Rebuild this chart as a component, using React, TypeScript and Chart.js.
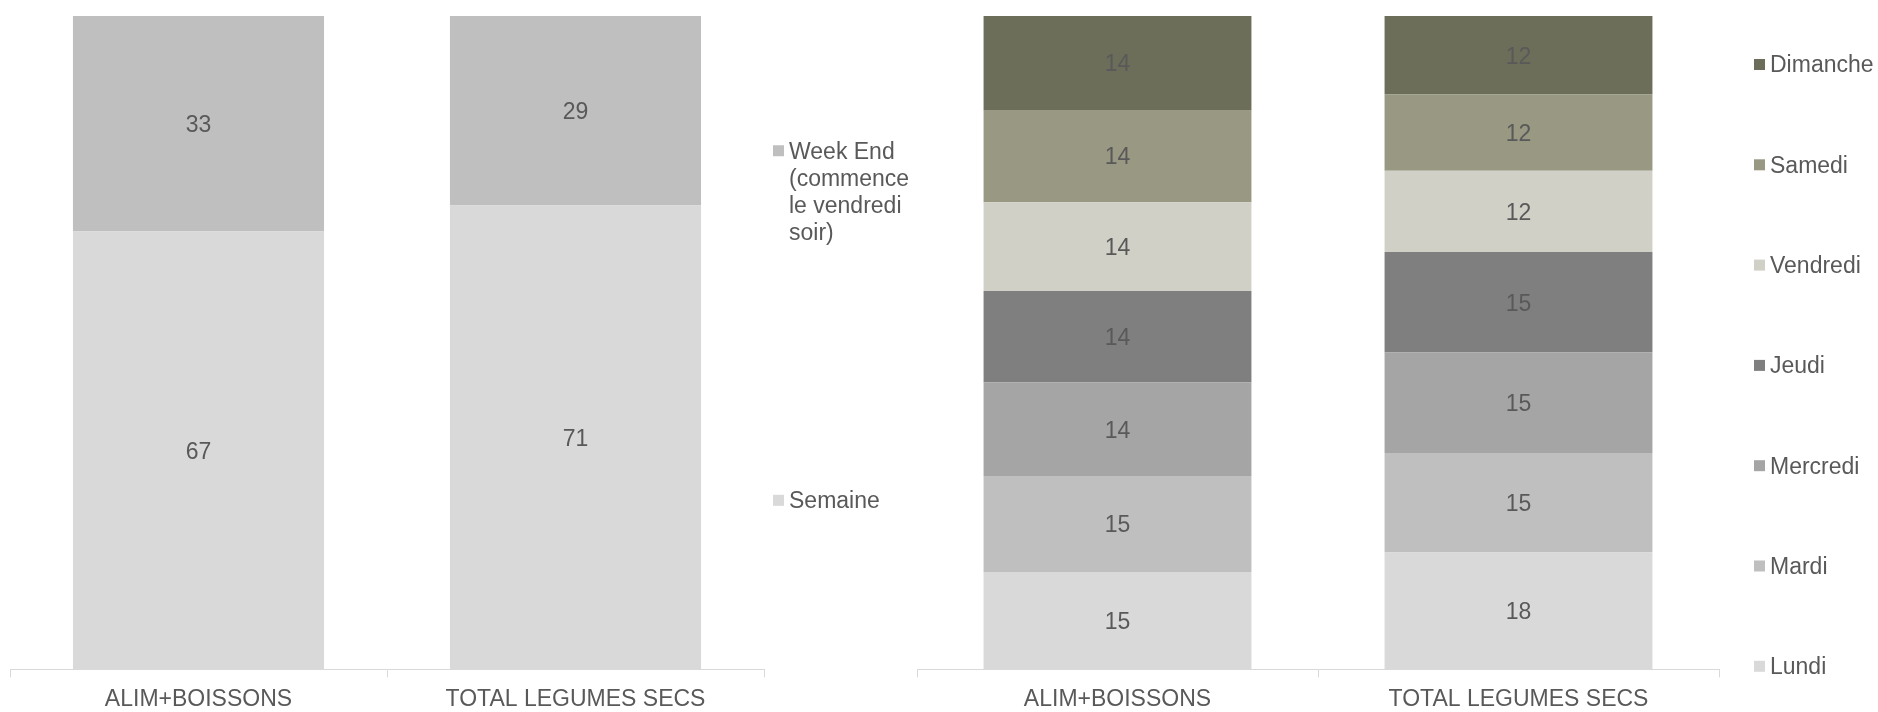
import React, { useEffect, useRef } from "react";
import { Chart, registerables } from "chart.js";

Chart.register(...registerables);

const categories = ["ALIM+BOISSONS", "TOTAL LEGUMES SECS"];

// Left chart: Semaine / Week End (%)
const semaineValues = [67, 71];
const weekEndValues = [33, 29];
const weekEndLabel = ["Week End", "(commence", "le vendredi", "soir)"];

// Right chart: days of week (%)
const dayLabels = ["Lundi", "Mardi", "Mercredi", "Jeudi", "Vendredi", "Samedi", "Dimanche"];
const lundiValues = [14.9, 17.9];
const mardiValues = [14.7, 15.2];
const mercrediValues = [14.3, 15.4];
const jeudiValues = [14.0, 15.4];
const vendrediValues = [13.6, 12.4];
const samediValues = [14.1, 11.7];
const dimancheValues = [14.4, 12.0];

const FONT = "'Liberation Sans', Arial, sans-serif";
const FONT_SIZE = 23;
const TEXT_COLOR = "#595959";

const dataLabelPlugin = {
  id: "dataLabelPlugin",
  afterDatasetsDraw(chart: any) {
    const ctx = chart.ctx;
    ctx.save();
    ctx.font = `${FONT_SIZE}px ${FONT}`;
    ctx.fillStyle = TEXT_COLOR;
    ctx.textAlign = "center";
    ctx.textBaseline = "middle";
    chart.data.datasets.forEach((ds: any, di: number) => {
      const meta = chart.getDatasetMeta(di);
      meta.data.forEach((bar: any, i: number) => {
        const v = ds.data[i];
        const cy = (bar.y + bar.base) / 2 + 2;
        ctx.fillText(String(Math.round(v)), bar.x, cy);
      });
    });
    ctx.restore();
  },
};

const customLegendPlugin = {
  id: "customLegend",
  afterDraw(chart: any, _args: any, opts: any) {
    const ctx = chart.ctx;
    const area = chart.chartArea;
    const h = area.bottom - area.top;
    ctx.save();
    ctx.font = `${FONT_SIZE}px ${FONT}`;
    ctx.textAlign = "left";
    ctx.textBaseline = "middle";
    const order: number[] = opts.order;
    order.forEach((di: number, k: number) => {
      const ds = chart.data.datasets[di];
      const y = area.top + h * opts.positions[k];
      const x = area.right + opts.offset;
      ctx.fillStyle = ds.backgroundColor;
      ctx.fillRect(x, y - 6, 11, 11);
      ctx.fillStyle = TEXT_COLOR;
      const lines = Array.isArray(ds.legendText) ? ds.legendText : [ds.label];
      lines.forEach((line: string, li: number) => {
        ctx.fillText(line, x + 16, y + 1 + li * opts.lineHeight);
      });
    });
    ctx.restore();
  },
};

function makeOptions(padLeft: number, padRight: number, legend: any): any {
  return {
    responsive: false,
    animation: false,
    devicePixelRatio: 1,
    layout: { padding: { left: padLeft, right: padRight, top: 16, bottom: 0 } },
    plugins: {
      legend: { display: false },
      tooltip: { enabled: false },
      customLegend: legend,
    },
    scales: {
      x: {
        stacked: true,
        grid: {
          display: true,
          drawOnChartArea: false,
          drawTicks: true,
          tickLength: 8,
          color: "#D9D9D9",
          offset: true,
        },
        border: { display: true, color: "#D9D9D9", width: 1 },
        ticks: { color: TEXT_COLOR, font: { family: FONT, size: FONT_SIZE }, padding: 8 },
      },
      y: { stacked: true, display: false, min: 0, max: 100 },
    },
  };
}

const CANVAS_H = 721;

function LeftChart() {
  const ref = useRef<HTMLCanvasElement>(null);
  useEffect(() => {
    const chart = new Chart(ref.current as HTMLCanvasElement, {
      type: "bar",
      data: {
        labels: categories,
        datasets: [
          {
            label: "Semaine",
            data: semaineValues,
            backgroundColor: "#D9D9D9",
            borderWidth: 0,
            categoryPercentage: 1,
            barPercentage: 0.666,
          },
          {
            label: "Week End",
            legendText: weekEndLabel,
            data: weekEndValues,
            backgroundColor: "#BFBFBF",
            borderWidth: 0,
            categoryPercentage: 1,
            barPercentage: 0.666,
          } as any,
        ],
      },
      options: makeOptions(10, 196, { order: [1, 0], positions: [0.207, 0.742], offset: 9, lineHeight: 27 }),
      plugins: [dataLabelPlugin, customLegendPlugin],
    });
    return () => chart.destroy();
  }, []);
  return <canvas ref={ref} width={960} height={CANVAS_H} style={{ position: "absolute", left: 0, top: 0 }} />;
}

function RightChart() {
  const ref = useRef<HTMLCanvasElement>(null);
  useEffect(() => {
    const values = [lundiValues, mardiValues, mercrediValues, jeudiValues, vendrediValues, samediValues, dimancheValues];
    const colors = ["#D9D9D9", "#BFBFBF", "#A5A5A5", "#7F7F7F", "#D0D0C6", "#989883", "#6C6E5A"];
    const chart = new Chart(ref.current as HTMLCanvasElement, {
      type: "bar",
      data: {
        labels: categories,
        datasets: dayLabels.map((d, i) => ({
          label: d,
          data: values[i],
          backgroundColor: colors[i],
          borderWidth: 0,
          categoryPercentage: 1,
          barPercentage: 0.668,
        })),
      },
      options: makeOptions(17, 159, {
        order: [6, 5, 4, 3, 2, 1, 0],
        positions: [0.075, 0.2285, 0.382, 0.5355, 0.689, 0.8425, 0.996],
        offset: 35,
        lineHeight: 27,
      }),
      plugins: [dataLabelPlugin, customLegendPlugin],
    });
    return () => chart.destroy();
  }, []);
  return <canvas ref={ref} width={978} height={CANVAS_H} style={{ position: "absolute", left: 900, top: 0 }} />;
}

export default function App() {
  return (
    <div
      style={{
        position: "fixed",
        left: 0,
        top: 0,
        width: 1878,
        height: 712,
        overflow: "hidden",
        background: "#fff",
      }}
    >
      <RightChart />
      <LeftChart />
    </div>
  );
}
